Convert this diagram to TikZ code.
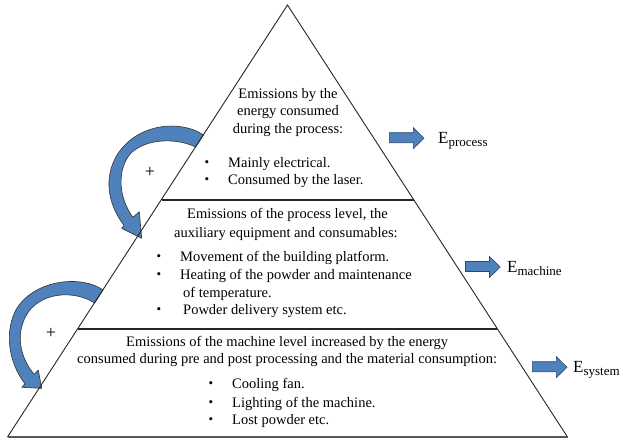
\documentclass[tikz,border=0pt]{standalone}
\usepackage{fontspec}
\setmainfont{Liberation Serif}
\definecolor{arrowblue}{RGB}{79,129,189}
\definecolor{arrowedge}{RGB}{45,70,110}
\begin{document}
\begin{tikzpicture}[x=1pt,y=-1pt,
  txt/.style={anchor=base west, inner sep=0pt, font=\fontsize{14.5}{18}\selectfont},
  ctxt/.style={anchor=base, inner sep=0pt, font=\fontsize{14.5}{18}\selectfont},
  bul/.style={anchor=base, inner sep=0pt, font=\fontsize{13}{15}\selectfont},
  blockarrow/.style={fill=arrowblue, draw=arrowedge, line width=0.6pt, line join=miter},
  curvearrow/.style={fill=arrowblue, draw=black!80, line width=0.6pt, line join=round},
  elabel/.style={anchor=base west, inner sep=0pt, font=\fontsize{17}{20}\selectfont},
  pyrline/.style={draw=black!85, line width=0.9pt},
  divline/.style={draw=black!85, line width=1.4pt},
  baseline/.style={draw=black!65, line width=2pt},
  plussign/.style={inner sep=0pt, font=\fontsize{18}{20}\selectfont},
]
\useasboundingbox (0,0) rectangle (623,440);
% curved arrows
\filldraw[curvearrow] (203.4,135) .. controls (182,120) and (138,122) .. (117,155)
  .. controls (104,177) and (107,203) .. (124,225.4) -- (121.7,228.3) -- (141.7,238.3)
  -- (139.3,211.7) -- (133,217.3) .. controls (119,199) and (116,170) .. (131,153)
  .. controls (147,138) and (177,138) .. (195.6,147) -- cycle;
\filldraw[curvearrow] (103,290) .. controls (82,275) and (36,279) .. (17,308)
  .. controls (4,330) and (8,362) .. (25,383.8) -- (21.7,387.3) -- (41.7,388.3)
  -- (38.3,370) -- (34.2,374.3) .. controls (20,358) and (14,332) .. (29,311)
  .. controls (45,291) and (76,291) .. (94.7,303) -- cycle;
\node[plussign] (p1) at (150,172) {+};
\node[plussign] (p2) at (51,333) {+};
% pyramid
\coordinate (apex) at (287.5,5);
\coordinate (bl) at (7.5,437);
\coordinate (br) at (567.5,437);
\draw[pyrline] (bl) -- (apex) -- (br);
\draw[baseline] (bl) -- (br);
\draw[divline] (161.5,200) -- (413.5,200);
\draw[divline] (78,329) -- (497,329);
% top block
\node[ctxt] (a1) at (288,98) {Emissions by the};
\node[ctxt] (a2) at (288,115.5) {energy consumed};
\node[ctxt] (a3) at (288,133) {during the process:};
\node[bul] (ab1) at (207,166) {•};
\node[txt] (a4) at (228,167) {Mainly electrical.};
\node[bul] (ab2) at (207,183) {•};
\node[txt] (a5) at (228,184) {Consumed by the laser.};
% middle block
\node[txt] (b1) at (187,218) {Emissions of the process level, the};
\node[txt] (b2) at (174,237) {auxiliary equipment and consumables:};
\node[bul] (bb1) at (159,260) {•};
\node[txt] (b3) at (180,261) {Movement of the building platform.};
\node[bul] (bb2) at (159,278) {•};
\node[txt] (b4) at (180,279) {Heating of the powder and maintenance};
\node[txt] (b5) at (183,297) {of temperature.};
\node[bul] (bb3) at (159,313) {•};
\node[txt] (b6) at (183,314) {Powder delivery system etc.};
% bottom block
\node[txt] (c1) at (126,346) {Emissions of the machine level increased by the energy};
\node[txt] (c2) at (77,363) {consumed during pre and post processing and the material consumption:};
\node[bul] (cb1) at (211,387) {•};
\node[txt] (c3) at (232,388) {Cooling fan.};
\node[bul] (cb2) at (211,406) {•};
\node[txt] (c4) at (232,407) {Lighting of the machine.};
\node[bul] (cb3) at (211,423) {•};
\node[txt] (c5) at (232,424) {Lost powder etc.};
% right arrows
\filldraw[blockarrow] (389.3,132.7) -- (413.3,132.7) -- (413.3,127.7) -- (424,138.2)
  -- (413.3,148.7) -- (413.3,142.7) -- (389.3,142.7) -- cycle;
\filldraw[blockarrow] (465.5,261.5) -- (489.5,261.5) -- (489.5,256.5) -- (500.2,267)
  -- (489.5,277.5) -- (489.5,271.5) -- (465.5,271.5) -- cycle;
\filldraw[blockarrow] (532.3,361.7) -- (556.3,361.7) -- (556.3,356.7) -- (567,367.2)
  -- (556.3,377.7) -- (556.3,371.7) -- (532.3,371.7) -- cycle;
\node[elabel] (ep) at (438,143) {E\raisebox{-3.5pt}{\fontsize{13}{15}\selectfont process}};
\node[elabel] (em) at (507,272) {E\raisebox{-3.5pt}{\fontsize{13}{15}\selectfont machine}};
\node[elabel] (es) at (573,372) {E\raisebox{-3.5pt}{\fontsize{13}{15}\selectfont system}};
\end{tikzpicture}
\end{document}
